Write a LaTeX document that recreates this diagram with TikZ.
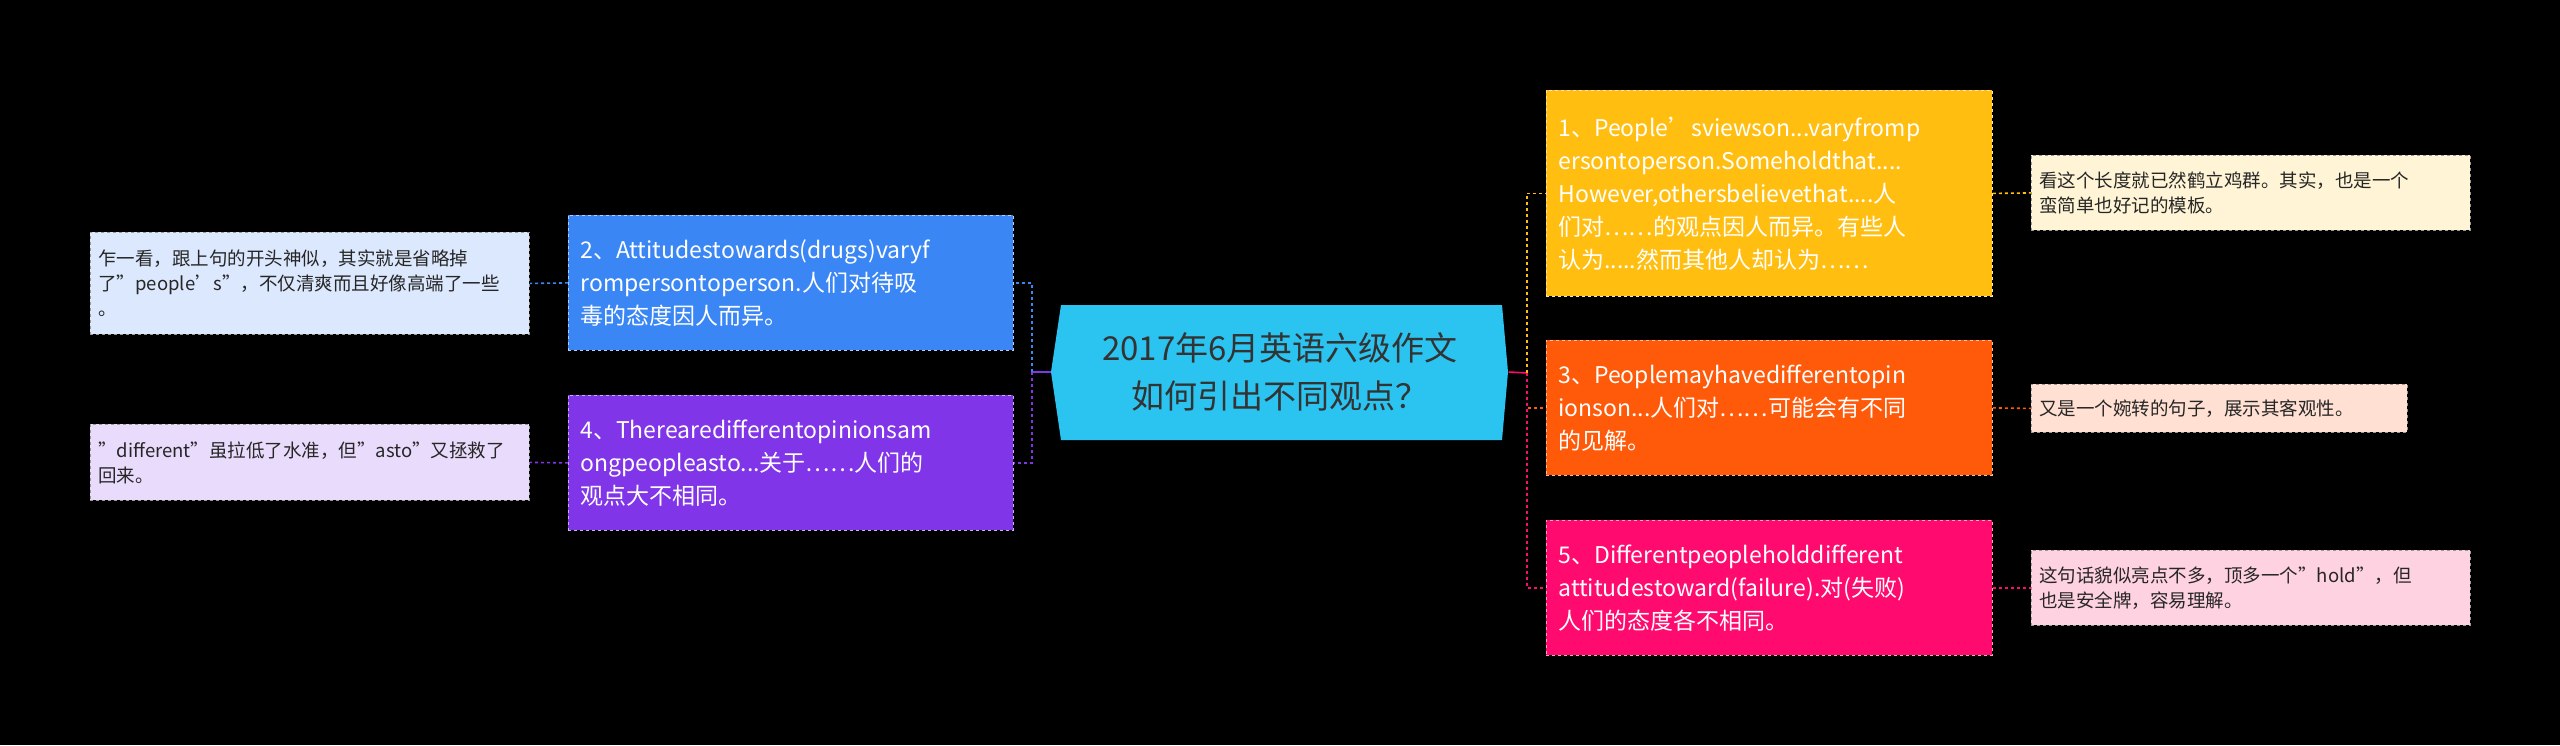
\documentclass[tikz,border=0pt]{standalone}
\usepackage{fontspec}
\setmainfont{Noto Sans CJK SC}
\definecolor{cyanC}{RGB}{43,196,240}
\definecolor{blueB}{RGB}{58,134,245}
\definecolor{purpB}{RGB}{128,53,232}
\definecolor{yelB}{RGB}{255,190,16}
\definecolor{orB}{RGB}{255,90,10}
\definecolor{pkB}{RGB}{255,10,110}
\definecolor{nBlue}{RGB}{220,232,253}
\definecolor{nPurp}{RGB}{233,219,251}
\definecolor{nYel}{RGB}{255,245,214}
\definecolor{nOr}{RGB}{255,224,210}
\definecolor{nPk}{RGB}{255,210,226}
\begin{document}
\begin{tikzpicture}[x=1pt,y=-1pt,
  br/.style={anchor=north west,inner xsep=12pt,align=left,text=white,font=\fontsize{23}{33}\selectfont,draw=white!60!#1,dashed,fill=#1,line width=0.8pt},
  nt/.style={anchor=north west,inner xsep=8pt,align=left,text=black!85,font=\fontsize{18.5}{25}\selectfont,draw=black!40,dashed,fill=#1,line width=0.8pt},
  cn/.style={draw=#1,dashed,line width=1.6pt}]
\fill[black] (0,0) rectangle (2560,745);
\useasboundingbox (0,0) rectangle (2560,745);
% center
\fill[cyanC] (1061,305)--(1502,305)--(1508,372)--(1502,440)--(1061,440)--(1051,372)--cycle;
\node[align=center,text=black!80,font=\fontsize{33}{48}\selectfont,minimum width=457pt,minimum height=135pt] (c) at (1280,372) {2017年6月英语六级作文\\如何引出不同观点？};
% left branches
\node[br=blueB,text width=421pt,minimum height=135pt] (b2) at (568,215) {2、Attitudestowards(drugs)varyf\\rompersontoperson.人们对待吸\\毒的态度因人而异。};
\node[br=purpB,text width=421pt,minimum height=135pt] (b4) at (568,395) {4、Therearedifferentopinionsam\\ongpeopleasto...关于……人们的\\观点大不相同。};
\node[nt=nBlue,text width=423pt,minimum height=102pt] (n2) at (90,232) {乍一看，跟上句的开头神似，其实就是省略掉\\了"people's"，不仅清爽而且好像高端了一些\\。};
\node[nt=nPurp,text width=423pt,minimum height=76pt] (n4) at (90,424) {"different"虽拉低了水准，但"asto"又拯救了\\回来。};
% right branches
\node[br=yelB,text width=422pt,minimum height=206pt] (b1) at (1546,90) {1、People'sviewson...varyfromp\\ersontoperson.Someholdthat....\\However,othersbelievethat....人\\们对……的观点因人而异。有些人\\认为.....然而其他人却认为……};
\node[br=orB,text width=422pt,minimum height=135pt] (b3) at (1546,340) {3、Peoplemayhavedifferentopin\\ionson...人们对……可能会有不同\\的见解。};
\node[br=pkB,text width=422pt,minimum height=135pt] (b5) at (1546,520) {5、Differentpeopleholddifferent\\attitudestoward(failure).对(失败)\\人们的态度各不相同。};
\node[nt=nYel,text width=423pt,minimum height=75pt] (m1) at (2031,155) {看这个长度就已然鹤立鸡群。其实，也是一个\\蛮简单也好记的模板。};
\node[nt=nOr,text width=360pt,minimum height=48pt] (m3) at (2031,384) {又是一个婉转的句子，展示其客观性。};
\node[nt=nPk,text width=423pt,minimum height=75pt] (m5) at (2031,550) {这句话貌似亮点不多，顶多一个"hold"，但\\也是安全牌，容易理解。};
% connectors
\coordinate (lj) at (1032,372);
\coordinate (rj) at (1527,373);
\draw[draw=purpB,line width=1.6pt] (c.west) -- (lj);
\draw[draw=pkB,line width=1.6pt] (c.east) -- (rj);
\draw[cn=blueB] (lj) |- (b2.east);
\draw[cn=purpB] (lj) |- (b4.east);
\draw[cn=yelB] (rj) |- (b1.west);
\draw[cn=orB] (rj) |- (b3.west);
\draw[cn=pkB] (rj) |- (b5.west);
\draw[cn=blueB] (b2.west) -- (n2.east);
\draw[cn=purpB] (b4.west) -- (n4.east);
\draw[cn=yelB] (b1.east) -- (m1.west);
\draw[cn=orB] (b3.east) -- (m3.west);
\draw[cn=pkB] (b5.east) -- (m5.west);
\end{tikzpicture}
\end{document}
